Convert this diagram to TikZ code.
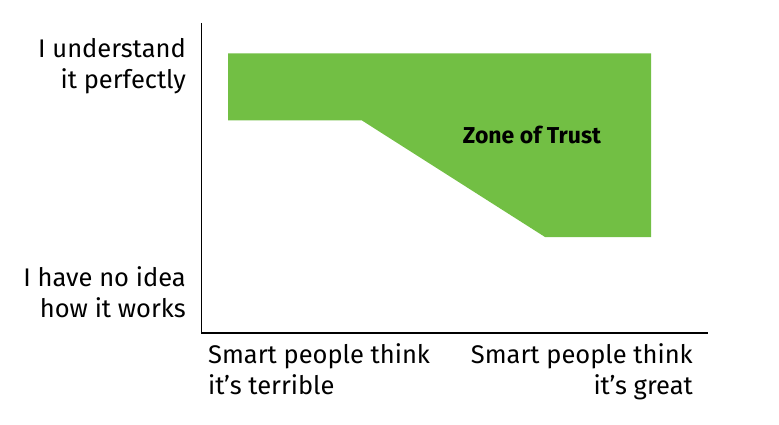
\documentclass[tikz,border=0pt]{standalone}
\usepackage{fontspec}
\setmainfont{Fira Sans}
\definecolor{zonegreen}{HTML}{72BF44}
\begin{document}
\begin{tikzpicture}[x=1pt,y=-1pt,
  axislabel/.style={font=\fontsize{25.5}{31}\selectfont, inner sep=0pt, align=right},
  zonelabel/.style={font=\fontsize{23}{26}\selectfont\bfseries, inner sep=0pt},
  axisline/.style={line width=1.8pt, black}]
\useasboundingbox (0,0) rectangle (779,425);
% zone polygon
\fill[zonegreen] (228,53.5) -- (651,53.5) -- (651,237) -- (545,237) -- (362,120.5) -- (228,120.5) -- cycle;
\node[zonelabel] (zone) at (532,135) {Zone of Trust};
% axes
\coordinate (top) at (201.5,23);
\coordinate (origin) at (201.5,333);
\coordinate (right) at (708,333);
\draw[axisline] (top) -- (origin) -- (right);
% labels
\node[axislabel, anchor=north east] (ytop) at (186,38.5) {I understand\\it perfectly};
\node[axislabel, anchor=north east] (ybot) at (186,266.5) {I have no idea\\how it works};
\node[axislabel, anchor=north west, align=left] (xleft) at (208,343.5) {Smart people think\\it’s terrible};
\node[axislabel, anchor=north east] (xright) at (693,343.5) {Smart people think\\it’s great};
\end{tikzpicture}
\end{document}
